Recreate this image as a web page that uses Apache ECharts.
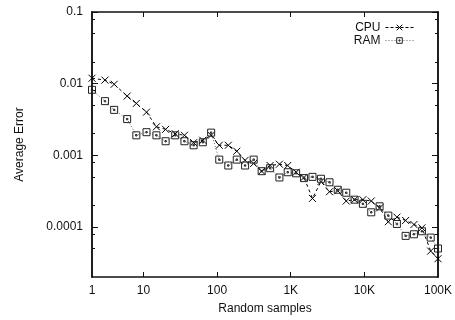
<!DOCTYPE html>
<html>
<head>
<meta charset="utf-8">
<script src="https://cdn.jsdelivr.net/npm/echarts@6/dist/echarts.min.js"></script>
<style>html,body{margin:0;padding:0;background:#fff}#c{width:455px;height:320px}</style>
</head>
<body>
<div id="c"></div>
<script>
// Random sample counts (x)
var samples = [2,3,4,6,8,11,15,20,27,36,48,64,83,107,142,185,240,314,403,525,702,910,1184,1513,1974,2575,3363,4350,5675,7362,9550,12410,16100,21150,27680,36370,47130,60560,79600,100000];
// Average error, CPU
var cpuError = [0.0119,0.0112,0.0098,0.0067,0.0053,0.0040,0.0025,0.0023,0.0020,0.0019,0.0015,0.00162,0.0019,0.00138,0.00138,0.00114,0.00085,0.00077,0.00060,0.00072,0.00075,0.00072,0.00058,0.00049,0.00025,0.00043,0.00031,0.00032,0.00023,0.00024,0.00024,0.00023,0.000184,0.000118,0.000137,0.000123,0.000108,0.000097,0.000046,0.000036];
// Average error, RAM
var ramError = [0.0082,0.0057,0.0043,0.0032,0.0019,0.0021,0.0019,0.00157,0.0019,0.00157,0.00138,0.00152,0.00207,0.00087,0.00072,0.00087,0.00072,0.00087,0.00060,0.00066,0.00049,0.00058,0.00056,0.00048,0.00050,0.00047,0.00042,0.00033,0.00030,0.00024,0.00021,0.00016,0.000194,0.000144,0.000110,0.000075,0.000079,0.000087,0.000071,0.000050];

var xTickValues = [2,10,100,1000,10000,100000];
var xTickLabels = ['1','10','100','1K','10K','100K'];
var yTickValues = [0.1,0.01,0.001,0.0001];
var yTickLabels = ['0.1','0.01','0.001','0.0001'];
var yMinorValues = [0.08,0.05,0.02,0.008,0.005,0.002,0.0008,0.0005,0.0002,0.00008,0.00005];

function pairs(xs, ys){ return xs.map(function(x,i){ return [x, ys[i]]; }); }

var FONT = 'Liberation Sans';
var TXT = '#111';
var axisLine = {show:true, lineStyle:{color:'#111', width:1.5}};
var CROSS = 'path://M0,0L10,10M0,10L10,0';
var BOXDOT = 'path://M0,0H10V10H0Z M4,4H6V6H4Z';

function xAxisDef(pos, labels){
  return {
    type:'log', logBase:10, min:2, max:100000, position:pos,
    axisLine: axisLine,
    splitLine:{show:false},
    axisTick:{show:true, inside:true, length:5, lineStyle:{color:'#111'}, customValues:[10,100,1000,10000]},
    axisLabel: labels ? {
      show:true, margin:8, fontFamily:FONT, fontSize:12, color:TXT,
      customValues: xTickValues,
      formatter:function(v){ for (var i=0;i<xTickValues.length;i++){ if (Math.abs(Math.log10(v)-Math.log10(xTickValues[i]))<1e-6) return xTickLabels[i]; } return ''; }
    } : {show:false},
    name: labels ? 'Random samples' : '',
    nameLocation:'middle', nameGap:26,
    nameTextStyle:{fontFamily:FONT, fontSize:12, color:TXT}
  };
}
function yAxisDef(pos, major, labels){
  return {
    type:'log', logBase:10, min:0.00002, max:0.1, position:pos,
    axisLine: axisLine,
    splitLine:{show:false},
    axisTick:{show:true, inside:true, length: major?6:3, lineStyle:{color:'#111'}, customValues: major ? yTickValues : yMinorValues},
    axisLabel: labels ? {
      show:true, margin:9, fontFamily:FONT, fontSize:12, color:TXT,
      customValues: yTickValues,
      formatter:function(v){ for (var i=0;i<yTickValues.length;i++){ if (Math.abs(Math.log10(v)-Math.log10(yTickValues[i]))<1e-6) return yTickLabels[i]; } return ''; }
    } : {show:false},
    name: labels ? 'Average Error' : '',
    nameLocation:'middle', nameGap:66,
    nameTextStyle:{fontFamily:FONT, fontSize:12, color:TXT}
  };
}

var chart = echarts.init(document.getElementById('c'), null, {renderer:'canvas'});
chart.setOption({
  animation:false,
  backgroundColor:'#fff',
  grid:{left:92, right:16, top:12, bottom:42},
  legend:{
    orient:'vertical', right:36, top:16, align:'right',
    itemWidth:28, itemHeight:7, itemGap:0,
    textStyle:{fontFamily:FONT, fontSize:12, color:TXT, lineHeight:13},
    data:[
      {name:'CPU', itemStyle:{color:'#fff', borderColor:'#000', borderWidth:1}, lineStyle:{color:'#000', width:1, type:[3,2]}},
      {name:'RAM', itemStyle:{color:'#fff', borderColor:'#222', borderWidth:1}, lineStyle:{color:'#666', width:1, type:[1,2]}}
    ]
  },
  xAxis:[ xAxisDef('bottom', true), xAxisDef('top', false) ],
  yAxis:[ yAxisDef('left', true, true), yAxisDef('left', false, false), yAxisDef('right', true, false), yAxisDef('right', false, false) ],
  series:[
    {
      name:'CPU', type:'line', xAxisIndex:0, yAxisIndex:0,
      data: pairs(samples, cpuError),
      symbol:CROSS, symbolSize:7,
      color:'#000',
      lineStyle:{color:'#000', width:1, type:[3,3]},
      itemStyle:{color:'none', borderColor:'#000', borderWidth:1}
    },
    {
      name:'RAM', type:'line', xAxisIndex:0, yAxisIndex:0,
      data: pairs(samples, ramError),
      symbol:BOXDOT, symbolSize:7,
      color:'#333',
      lineStyle:{color:'#666', width:1, type:[1,2]},
      itemStyle:{color:'none', borderColor:'#222', borderWidth:1}
    }
  ]
});
</script>
</body>
</html>
